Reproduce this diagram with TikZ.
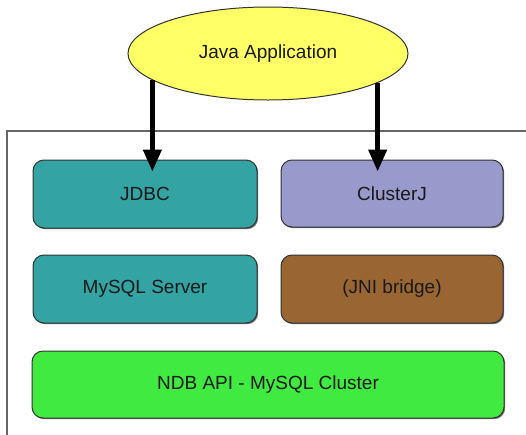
\documentclass[tikz,border=0pt]{standalone}
\usepackage{fontspec}
\setmainfont{Liberation Sans}
\usetikzlibrary{shapes.geometric,shadows,arrows.meta}
\definecolor{appyellow}{HTML}{FFFF66}
\definecolor{teal2}{HTML}{33A3A3}
\definecolor{lav}{HTML}{9999CC}
\definecolor{brownbox}{HTML}{996633}
\definecolor{greenbox}{HTML}{40EA40}
\definecolor{edge}{HTML}{333333}
\definecolor{frame}{HTML}{666666}
\tikzset{
  layer/.style={draw=edge, line width=1pt, rounded corners=11pt, font=\fontsize{19}{22}\selectfont, text=black!90,
    drop shadow={shadow xshift=1.2pt, shadow yshift=-1.2pt, opacity=0.55, fill=black}},
  app/.style={ellipse, draw=edge, line width=1pt, fill=appyellow, minimum width=280pt, minimum height=93pt, inner sep=0pt, font=\fontsize{19}{22}\selectfont, text=black!90},
  arr/.style={line width=4.5pt, -{Triangle[length=22pt,width=18pt]}},
}
\begin{document}
\begin{tikzpicture}[x=1pt,y=-1pt]
\useasboundingbox (0,0) rectangle (526,434);
\clip (0,0) rectangle (526,434);
\fill[white] (0,0) rectangle (526,434);
\draw[frame, line width=1.5pt] (7,480) -- (7,131) -- (560,131);
\node[layer, fill=teal2, minimum width=224pt, minimum height=68pt] (jdbc) at (145,194) {JDBC};
\node[layer, fill=lav, minimum width=222pt, minimum height=67pt] (clusterj) at (392,193.5) {ClusterJ};
\node[layer, fill=teal2, minimum width=224pt, minimum height=68pt] (mysql) at (145,289) {MySQL Server};
\node[layer, fill=brownbox, minimum width=222pt, minimum height=68pt] (jni) at (392,289) {(JNI bridge)};
\node[layer, fill=greenbox, minimum width=472pt, minimum height=67pt] (ndb) at (268,384.5) {NDB API - MySQL Cluster};
\node[app] (app) at (268,53.5) {Java Application};
\coordinate (lt) at ([yshift=-12pt]app.193 |- jdbc.north);
\coordinate (rt) at ([yshift=-12pt]app.-15 |- clusterj.north);
\draw[arr] (app.193) -- (lt);
\draw[arr] (app.-15) -- (rt);
\end{tikzpicture}
\end{document}
